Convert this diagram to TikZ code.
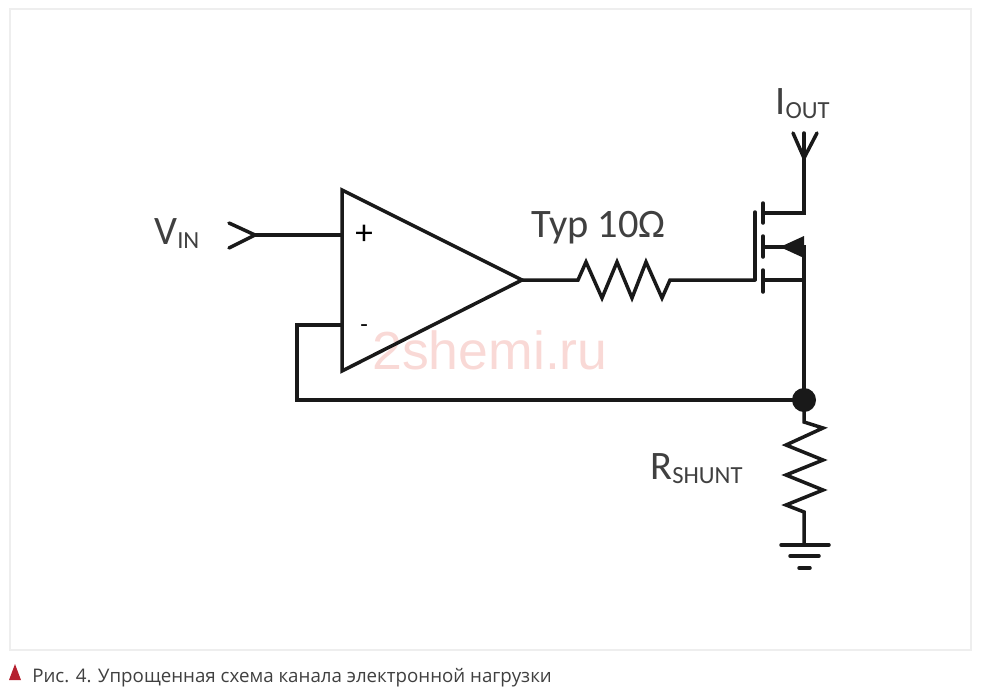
\documentclass[tikz,border=0pt]{standalone}
\usepackage{fontspec}
\setmainfont{Carlito}
\newfontfamily\capfont{Open Sans}
\newfontfamily\markfont{Liberation Sans}
\definecolor{labelgray}{HTML}{404040}
\definecolor{framegray}{HTML}{EEEEEE}
\definecolor{capred}{HTML}{B5202F}
\definecolor{markpink}{HTML}{F9D9D6}
\newcommand{\sublabel}[2]{{\fontsize{23}{23}\selectfont #1}{\fontsize{14}{14}\selectfont\raisebox{-2.7pt}{#2}}}
\tikzset{
	wire/.style={line width=2pt,line join=miter,line cap=round,black!90},
	label/.style={inner sep=0pt,anchor=base west,text=labelgray},
}
\begin{document}
\begin{tikzpicture}[x=0.02cm,y=-0.02cm]
\useasboundingbox (0,0) rectangle (982,697);
\draw[framegray,line width=0.6pt] (10,9) rectangle (971,650);
\node[inner sep=0pt,text=markpink] (mark) at (490,350) {\markfont\fontsize{30.5}{30.5}\selectfont 2shemi.ru};
\coordinate (top) at (342,190);
\coordinate (out) at (522,280);
\coordinate (bot) at (342,371);
\coordinate (plus) at (342,235);
\coordinate (minus) at (342,325);
\coordinate (vin) at (255,235);
\coordinate (gate) at (755,280);
\coordinate (drain) at (804,213);
\coordinate (body) at (804,247);
\coordinate (source) at (804,280);
\coordinate (iout) at (804,133);
\coordinate (gnd) at (804,545);
\draw[wire] (top) -- (out) -- (bot) -- cycle;
\draw[wire] (vin) -- (plus);
\draw[wire] (229,223) -- (vin) -- (229,248);
\draw[wire] (minus) -- (297,325) -- (297,400) -- (804,400);
\draw[wire] (out) -- (578,280) -- (586,262) -- (602,298) -- (617,262) -- (632,298) -- (646,262) -- (662,298) -- (670,280) -- (gate);
\draw[wire] (gate) -- (755,212);
\foreach \a/\b in {203/223,236/257,270/292}
{
	\draw[wire] (763,\a) -- (763,\b);
}
\draw[wire] (763,213) -- (drain) -- (iout);
\draw[wire] (763,247) -- (body) -- (source) -- (804,400);
\draw[wire] (763,280) -- (source);
\draw[wire] (793,133) -- (804,158) -- (817,133);
\fill[black!90] (780,247) -- (804,236) -- (804,258) -- cycle;
\fill[black!90] (804,400) circle (12);
\draw[wire] (804,400) -- (804,422) -- (823,428) -- (786,445) -- (823,460) -- (786,475) -- (823,490) -- (786,505) -- (804,512) -- (gnd);
\draw[wire] (781,545) -- (829,545);
\draw[wire] (790,556) -- (819,556);
\draw[wire] (799,568) -- (810,568);
\node[label] (vinlabel) at (154,244) {\sublabel{V}{IN}};
\node[label] (ioutlabel) at (775,114) {\sublabel{I}{OUT}};
\node[label] (shuntlabel) at (650,479) {\sublabel{R}{SHUNT}};
\node[label,font=\fontsize{23}{23}\selectfont] (typlabel) at (531,237) {Typ 10Ω};
\node[label,font=\fontsize{20}{20}\selectfont,text=black] (pluslabel) at (355,244) {+};
\node[label,font=\fontsize{14}{14}\selectfont,text=black] (minuslabel) at (360,332) {-};
\fill[capred] (9,680) -- (15,664) -- (21,680) -- cycle;
\node[label,text=labelgray] (caption) at (32,682) {\capfont\fontsize{10.65}{12}\selectfont Рис. 4. Упрощенная схема канала электронной нагрузки};
\end{tikzpicture}
\end{document}
